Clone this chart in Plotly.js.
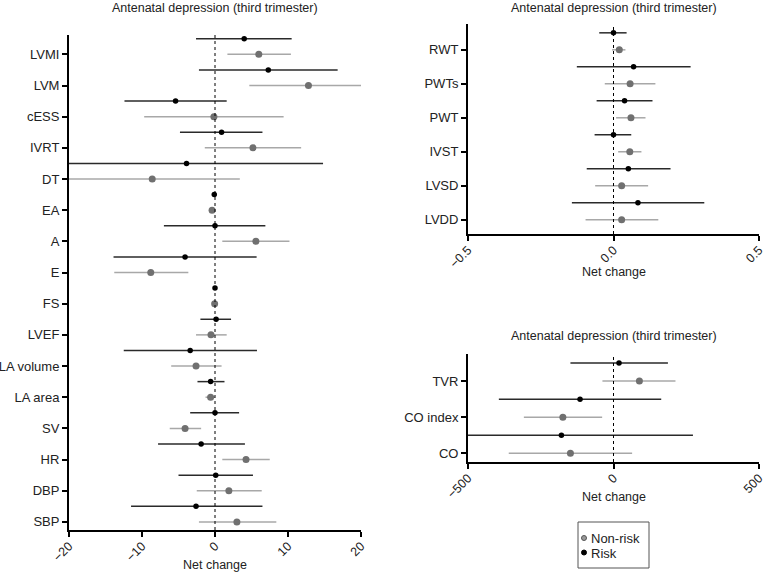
<!DOCTYPE html>
<html><head><meta charset="utf-8">
<script src="https://cdn.plot.ly/plotly-3.0.1.min.js"></script>
<style>html,body{margin:0;padding:0;background:#fff}#chart{width:765px;height:575px}</style>
</head><body><div id="chart"></div>
<script>
// Left panel (top to bottom)
const leftCats = ["LVMI","LVM","cESS","IVRT","DT","EA","A","E","FS","LVEF","LA volume","LA area","SV","HR","DBP","SBP"];
const leftRiskMean = [4.0, 7.3, -5.4, 0.9, -3.9, -0.1, 0.0, -4.1, 0.0, 0.15, -3.4, -0.6, 0.0, -1.9, 0.1, -2.6];
const leftRiskLow  = [-2.6, -2.2, -12.4, -4.8, -20, -0.3, -7.0, -13.9, -0.2, -2.0, -12.5, -2.4, -3.4, -7.8, -5.0, -11.5];
const leftRiskHigh = [10.5, 16.8, 1.6, 6.5, 14.8, 0.1, 6.9, 5.7, 0.2, 2.2, 5.75, 1.3, 3.3, 4.1, 5.2, 6.5];
const leftNonMean  = [6.0, 12.8, -0.15, 5.2, -8.6, -0.4, 5.6, -8.8, -0.05, -0.55, -2.6, -0.6, -4.1, 4.25, 1.9, 3.0];
const leftNonLow   = [1.7, 4.7, -9.7, -1.4, -20, -0.6, 1.0, -13.8, -0.2, -2.6, -6.0, -1.3, -6.2, 1.0, -2.5, -2.2];
const leftNonHigh  = [10.4, 20.0, 9.4, 11.8, 3.4, -0.2, 10.2, -3.65, 0.1, 1.6, 0.9, 0.0, -1.9, 7.5, 6.4, 8.4];

// Right top panel (top to bottom)
const rtCats = ["RWT","PWTs","PWT","IVST","LVSD","LVDD"];
const rtRiskMean = [0.0, 0.069, 0.038, 0.0, 0.051, 0.084];
const rtRiskLow  = [-0.049, -0.126, -0.058, -0.065, -0.092, -0.143];
const rtRiskHigh = [0.045, 0.265, 0.134, 0.061, 0.196, 0.312];
const rtNonMean  = [0.02, 0.057, 0.06, 0.056, 0.028, 0.028];
const rtNonLow   = [-0.005, -0.03, 0.009, 0.016, -0.063, -0.096];
const rtNonHigh  = [0.041, 0.144, 0.11, 0.096, 0.119, 0.154];

// Right bottom panel (top to bottom)
const rbCats = ["TVR","CO index","CO"];
const rbRiskMean = [19, -115, -179];
const rbRiskLow  = [-148, -394, -500];
const rbRiskHigh = [187, 164, 273];
const rbNonMean  = [89, -174, -148];
const rbNonLow   = [-38, -308, -360];
const rbNonHigh  = [213, -39, 64];

const panelTitle = "Antenatal depression (third trimester)";
const xTitle = "Net change";
const legendNames = ["Non-risk", "Risk"];

const W = 765, H = 575;
const FONT = "Liberation Sans, Arial, sans-serif";
const TXT = "#222";
const riskColor = "#000000", riskLine = "#2a2a2a";
const nonColor = "#707070", nonLine = "#a8a8a8";

function pos(cats){ return cats.map((c,i)=>cats.length-1-i); }
function makeTraces(cats, rm, rl, rh, nm, nl, nh, xa, ya){
  const p = pos(cats);
  const non = {
    type:"scatter", mode:"markers", name:legendNames[0], showlegend:false,
    x:nm, y:p, xaxis:xa, yaxis:ya,
    marker:{color:nonColor, size:7},
    error_x:{type:"data", symmetric:false, array:nh.map((v,i)=>v-nm[i]), arrayminus:nm.map((v,i)=>v-nl[i]), color:nonLine, thickness:1.5, width:0}
  };
  const risk = {
    type:"scatter", mode:"markers", name:legendNames[1], showlegend:false,
    x:rm, y:p.map(v=>v+0.5), xaxis:xa, yaxis:ya,
    marker:{color:riskColor, size:5.5},
    error_x:{type:"data", symmetric:false, array:rh.map((v,i)=>v-rm[i]), arrayminus:rm.map((v,i)=>v-rl[i]), color:riskLine, thickness:1.5, width:0}
  };
  return [non, risk];
}

const traces = [
  ...makeTraces(leftCats, leftRiskMean, leftRiskLow, leftRiskHigh, leftNonMean, leftNonLow, leftNonHigh, "x", "y"),
  ...makeTraces(rtCats, rtRiskMean, rtRiskLow, rtRiskHigh, rtNonMean, rtNonLow, rtNonHigh, "x2", "y2"),
  ...makeTraces(rbCats, rbRiskMean, rbRiskLow, rbRiskHigh, rbNonMean, rbNonLow, rbNonHigh, "x3", "y3")
];

function xd(a,b){ return [a/W, b/W]; }
function yd(top,bottom){ return [1-bottom/H, 1-top/H]; }

function xaxisCfg(domain, anchor, range, tickvals, fmt){
  return {domain:domain, anchor:anchor, range:range, tickvals:tickvals, tickformat:fmt,
    showgrid:false, zeroline:false, showline:true, linecolor:"#000", linewidth:2,
    ticks:"outside", ticklen:5, tickwidth:2, tickcolor:"#000", tickangle:-45,
    ticklabeloverflow:"allow", ticklabelstandoff:-3,
    tickfont:{family:FONT, size:12.5, color:TXT}, fixedrange:true};
}
function yaxisCfg(domain, anchor, cats, range){
  return {domain:domain, anchor:anchor, range:range, tickvals:pos(cats), ticktext:cats,
    showgrid:false, zeroline:false, showline:true, linecolor:"#000", linewidth:2,
    ticks:"outside", ticklen:5, tickwidth:2, tickcolor:"#000",
    tickfont:{family:FONT, size:13, color:TXT}, fixedrange:true};
}

function txt(t, x, y, size, anchor){
  return {text:t, xref:"paper", yref:"paper", x:x/W, y:1-y/H, xanchor:anchor||"center", yanchor:"middle",
    showarrow:false, font:{family:FONT, size:size, color:TXT}};
}

const RX0 = 468, RX1 = 759;
const dL = yd(35,530), dRT = yd(24,234), dRB = yd(354,462);
const layout = {
  width:W, height:H, margin:{l:0,r:0,t:0,b:0},
  paper_bgcolor:"#fff", plot_bgcolor:"#fff",
  font:{family:FONT, color:TXT},
  showlegend:false,
  xaxis: xaxisCfg(xd(69,361), "y", [-20,20], [-20,-10,0,10,20], ""),
  yaxis: yaxisCfg(dL, "x", leftCats, [-0.26, 15.62]),
  xaxis2: xaxisCfg(xd(RX0,RX1), "y2", [-0.5,0.5], [-0.5,0,0.5], ".1f"),
  yaxis2: yaxisCfg(dRT, "x2", rtCats, [-0.42, 5.76]),
  xaxis3: xaxisCfg(xd(RX0,RX1), "y3", [-500,500], [-500,0,500], ""),
  yaxis3: yaxisCfg(dRB, "x3", rbCats, [-0.24, 2.75]),
  shapes:[
    {type:"line", xref:"x", yref:"y domain", x0:0, x1:0, y0:0, y1:1, line:{color:"#000", width:1, dash:"dot"}},
    {type:"line", xref:"x2", yref:"y2 domain", x0:0, x1:0, y0:0, y1:1, line:{color:"#000", width:1, dash:"dot"}},
    {type:"line", xref:"x3", yref:"y3 domain", x0:0, x1:0, y0:0, y1:1, line:{color:"#000", width:1, dash:"dot"}},
    // legend box and symbols
    {type:"rect", xref:"paper", yref:"paper", x0:578/W, x1:649/W, y0:1-568/H, y1:1-522/H, line:{color:"#555", width:1}, fillcolor:"rgba(0,0,0,0)"},
    {type:"circle", xref:"paper", yref:"paper", x0:581.5/W, x1:586.5/W, y0:1-540.5/H, y1:1-535.5/H, line:{color:"#555", width:1}, fillcolor:"#9a9a9a"},
    {type:"circle", xref:"paper", yref:"paper", x0:581.5/W, x1:586.5/W, y0:1-555/H, y1:1-550/H, line:{color:"#000", width:1}, fillcolor:"#000"}
  ],
  annotations:[
    txt(panelTitle, (69+361)/2, 8, 12.5),
    txt(panelTitle, (RX0+RX1)/2, 8, 12.5),
    txt(panelTitle, (RX0+RX1)/2, 336, 12.5),
    txt(xTitle, 215, 565, 12.5),
    txt(xTitle, (RX0+RX1)/2, 272, 12.5),
    txt(xTitle, (RX0+RX1)/2, 497, 12.5),
    txt(legendNames[0], 589, 538, 13, "left"),
    txt(legendNames[1], 589, 553, 13, "left")
  ]
};

Plotly.newPlot("chart", traces, layout, {displayModeBar:false, staticPlot:true});
</script>
</body></html>
